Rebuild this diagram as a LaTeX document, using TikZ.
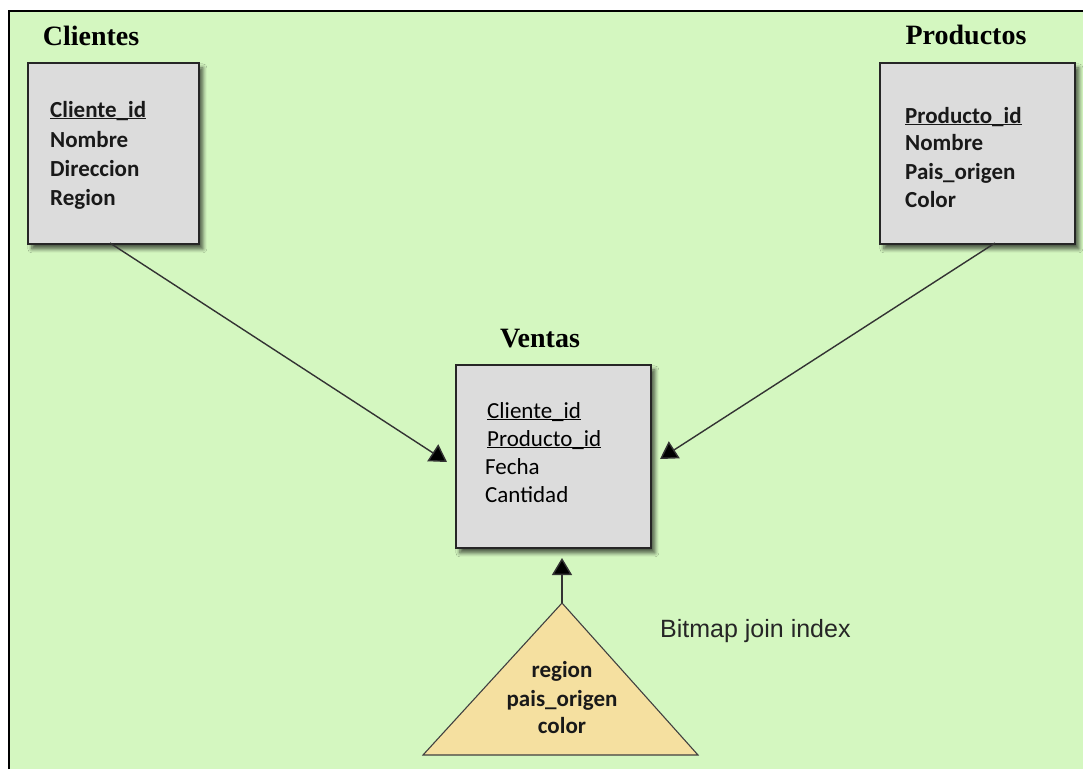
\documentclass[tikz,border=0pt]{standalone}
\usepackage{fontspec}
\setmainfont{Carlito}
\newfontfamily\titlefont{Liberation Serif}
\newfontfamily\labelfont{Liberation Sans}
\usetikzlibrary{arrows.meta,shadows.blur}
\definecolor{bggreen}{RGB}{212,247,192}
\definecolor{boxgray}{RGB}{220,220,220}
\definecolor{idxtan}{RGB}{245,224,160}
\newcommand{\keyfield}[1]{\underline{\smash{#1}}}
\begin{document}
\begin{tikzpicture}[x=1pt,y=-1pt,
  tablebox/.style={draw=black!85, line width=1.8pt, fill=boxgray, inner sep=0pt, anchor=north west,
    blur shadow={shadow xshift=4pt, shadow yshift=-5pt, shadow blur steps=6, shadow blur radius=4pt, shadow opacity=65}},
  tabletitle/.style={font=\titlefont\bfseries\fontsize{28}{30}\selectfont, anchor=base, inner sep=0pt},
  field/.style={font=\bfseries\fontsize{23}{29}\selectfont, anchor=base west, inner sep=0pt, text=black!90},
  vfield/.style={font=\fontsize{23}{29}\selectfont, anchor=base west, inner sep=0pt},
  idxfield/.style={font=\bfseries\fontsize{23}{28}\selectfont, anchor=base, inner sep=0pt, text=black!90},
  conn/.style={draw=black!80, line width=1.4pt, -{Triangle[length=17pt,width=20pt,fill=black]}}]
\useasboundingbox (0,0) rectangle (1083,769);
\fill[white] (0,0) rectangle (1083,769);
\fill[bggreen] (9,11) rectangle (1083,769);
\draw[black, line width=1.8pt] (9,769) -- (9,11) -- (1083,11);

% Clientes
\node[tabletitle] (clititle) at (91,45) {Clientes};
\node[tablebox, minimum width=171pt, minimum height=181pt] (cli) at (27,62) {};
\node[field] (cli1) at (50,117) {\keyfield{Cliente\_id}};
\node[field] (cli2) at (50,147) {Nombre};
\node[field] (cli3) at (50,176) {Direccion};
\node[field] (cli4) at (50,205) {Region};

% Productos
\node[tabletitle] (prodtitle) at (966,44) {Productos};
\node[tablebox, minimum width=195pt, minimum height=181pt] (prod) at (879,62) {};
\node[field] (prod1) at (905,123) {\keyfield{Producto\_id}};
\node[field] (prod2) at (905,150) {Nombre};
\node[field] (prod3) at (905,179) {Pais\_origen};
\node[field] (prod4) at (905,207) {Color};

% Ventas
\node[tabletitle] (ventitle) at (540,347) {Ventas};
\node[tablebox, minimum width=195pt, minimum height=183pt] (ven) at (455,364) {};
\node[vfield] (ven1) at (487,418) {\keyfield{Cliente\_id}};
\node[vfield] (ven2) at (487,446) {\keyfield{Producto\_id}};
\node[vfield] (ven3) at (485,474) {Fecha};
\node[vfield] (ven4) at (485,502) {Cantidad};

% Bitmap join index
\coordinate (apex) at (562,603);
\coordinate (baseL) at (423,755);
\coordinate (baseR) at (698,755);
\filldraw[fill=idxtan, draw=black!75, line width=1.1pt] (apex) -- (baseR) -- (baseL) -- cycle;
\node[idxfield] (idx1) at (562,677) {region};
\node[idxfield] (idx2) at (562,706) {pais\_origen};
\node[idxfield] (idx3) at (562,733) {color};
\node[font=\labelfont\fontsize{25}{28}\selectfont, anchor=base west, inner sep=0pt, text=black!85] (idxlabel) at (660,637) {Bitmap join index};

% connectors
\coordinate (cliout) at (110,243);
\coordinate (prodout) at (995,243);
\coordinate (venL) at (447,462);
\coordinate (venR) at (660,459);
\coordinate (venB) at (562,558);
\draw[conn] (cliout) -- (venL);
\draw[conn] (prodout) -- (venR);
\draw[conn] (apex) -- (venB);
\end{tikzpicture}
\end{document}
